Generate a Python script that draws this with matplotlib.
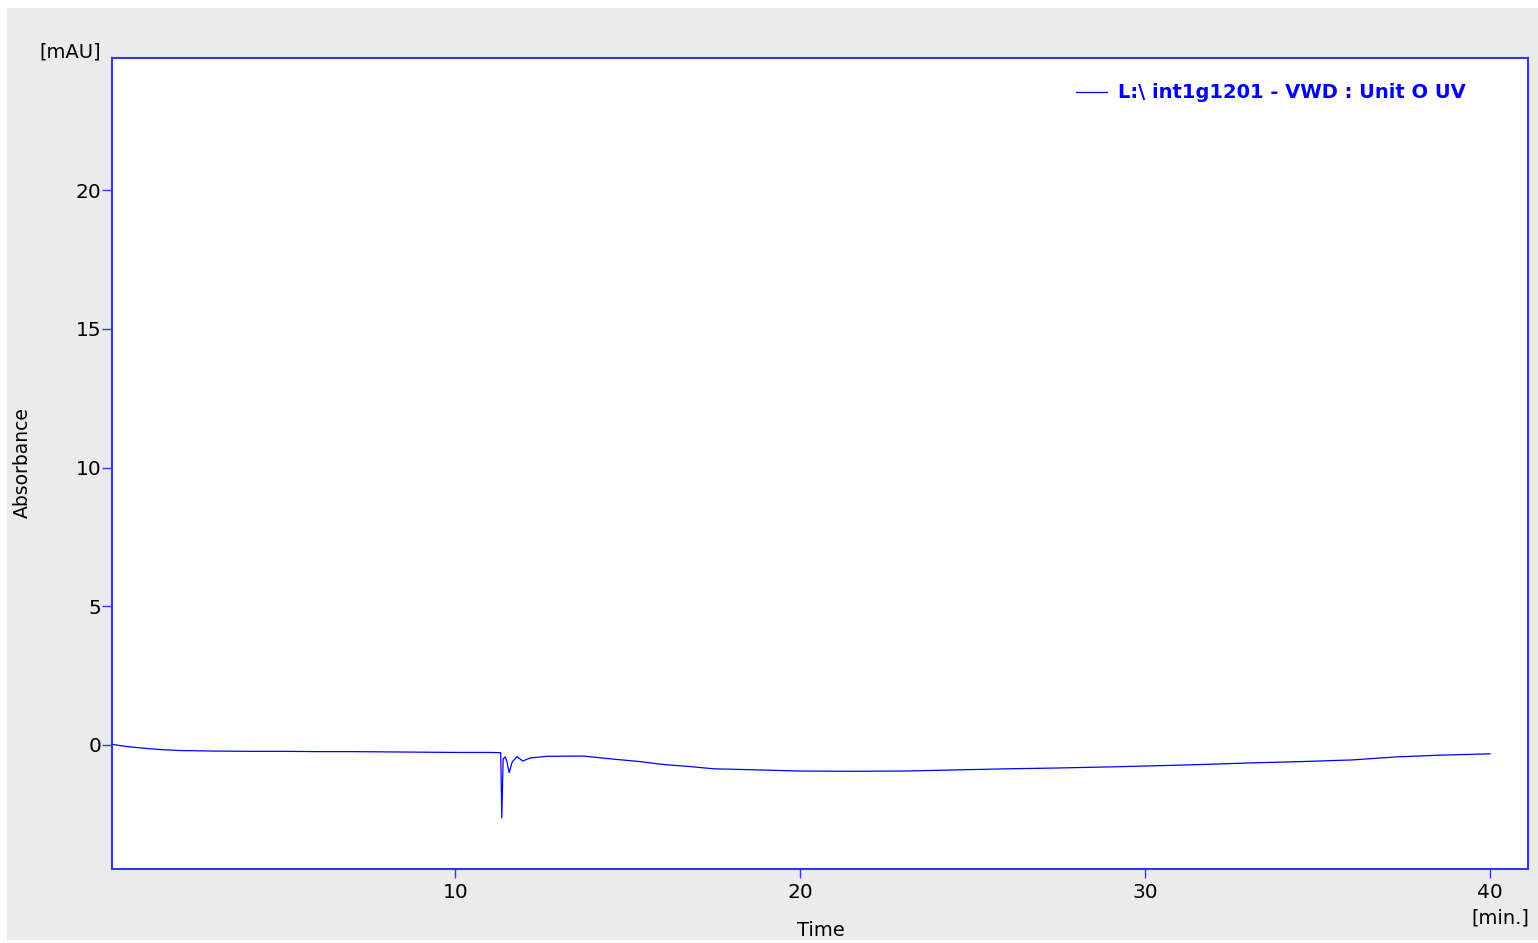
import matplotlib
matplotlib.use("Agg")
import matplotlib.pyplot as plt
from matplotlib.patches import Rectangle

# trace (min, mAU)
time_min = [0.0, 0.5, 1.0, 1.5, 2.0, 3.0, 4.0, 5.0, 6.0, 7.0, 8.0, 9.0, 10.0, 11.0, 11.32,
            11.35, 11.39, 11.45, 11.5, 11.565, 11.65, 11.79, 11.96, 12.17, 12.66, 13.71,
            14.58, 15.36, 16.0, 16.81, 17.5, 18.5, 20.0, 21.5, 23.0, 24.5, 26.0, 27.5,
            29.0, 30.0, 31.5, 33.0, 34.5, 36.0, 37.3, 38.5, 40.0]
absorb = [0.03, -0.06, -0.12, -0.17, -0.2, -0.22, -0.23, -0.23, -0.24, -0.24, -0.25, -0.26,
          -0.27, -0.27, -0.28, -2.63, -0.5, -0.43, -0.6, -1.0, -0.62, -0.42, -0.58, -0.47,
          -0.41, -0.4, -0.51, -0.6, -0.7, -0.78, -0.86, -0.89, -0.94, -0.95, -0.94, -0.9,
          -0.86, -0.83, -0.79, -0.76, -0.71, -0.65, -0.6, -0.54, -0.43, -0.37, -0.32]
x_ticks = [10, 20, 30, 40]
y_ticks = [0, 5, 10, 15, 20]
trace_name = "L:\\ int1g1201 - VWD : Unit O UV"

blue = "#0000ff"
edge = "#3333ff"
plt.rcParams["font.family"] = "DejaVu Sans"

fig = plt.figure(figsize=(15.38, 9.43), dpi=100)
fig.patch.set_facecolor("white")
fig.patches.append(Rectangle((7 / 1538, 3 / 943), 1531 / 1538, 932 / 943,
                             transform=fig.transFigure, facecolor="#ebebeb",
                             edgecolor="none", zorder=-10))

ax = fig.add_axes([0.0728, 0.0785, 0.9207, 0.86])
ax.plot(time_min, absorb, color=blue, lw=0.9, label=trace_name)
ax.set_xlim(0.05, 41.1)
ax.set_ylim(-4.47, 24.76)
ax.set_xticks(x_ticks)
ax.set_yticks(y_ticks)
for s in ax.spines.values():
    s.set_color(edge)
    s.set_linewidth(1.5)
ax.tick_params(direction="out", length=7, width=1, color=edge, labelsize=14.5)
ax.tick_params(axis="x", length=6.5, pad=3.5)
ax.tick_params(axis="y", pad=0.5)

leg = ax.legend(loc="center left", bbox_to_anchor=(1076 / 1538, 1 - 93 / 943),
                bbox_transform=fig.transFigure, frameon=False, handlelength=1.6,
                handletextpad=0.55, borderpad=0, borderaxespad=0,
                prop={"weight": "bold", "size": 14})
for t in leg.get_texts():
    t.set_color(blue)

fig.text(70 / 1538, 1 - 52 / 943, "[mAU]", ha="center", va="center", fontsize=14)
fig.text(22 / 1538, 1 - 463 / 943, "Absorbance", ha="center", va="center",
         rotation=90, fontsize=13.5)
fig.text(821 / 1538, 1 - 930 / 943, "Time", ha="center", va="center", fontsize=14)
fig.text(1500 / 1538, 1 - 918 / 943, "[min.]", ha="center", va="center", fontsize=14)

fig.savefig("out.png", dpi=100)
